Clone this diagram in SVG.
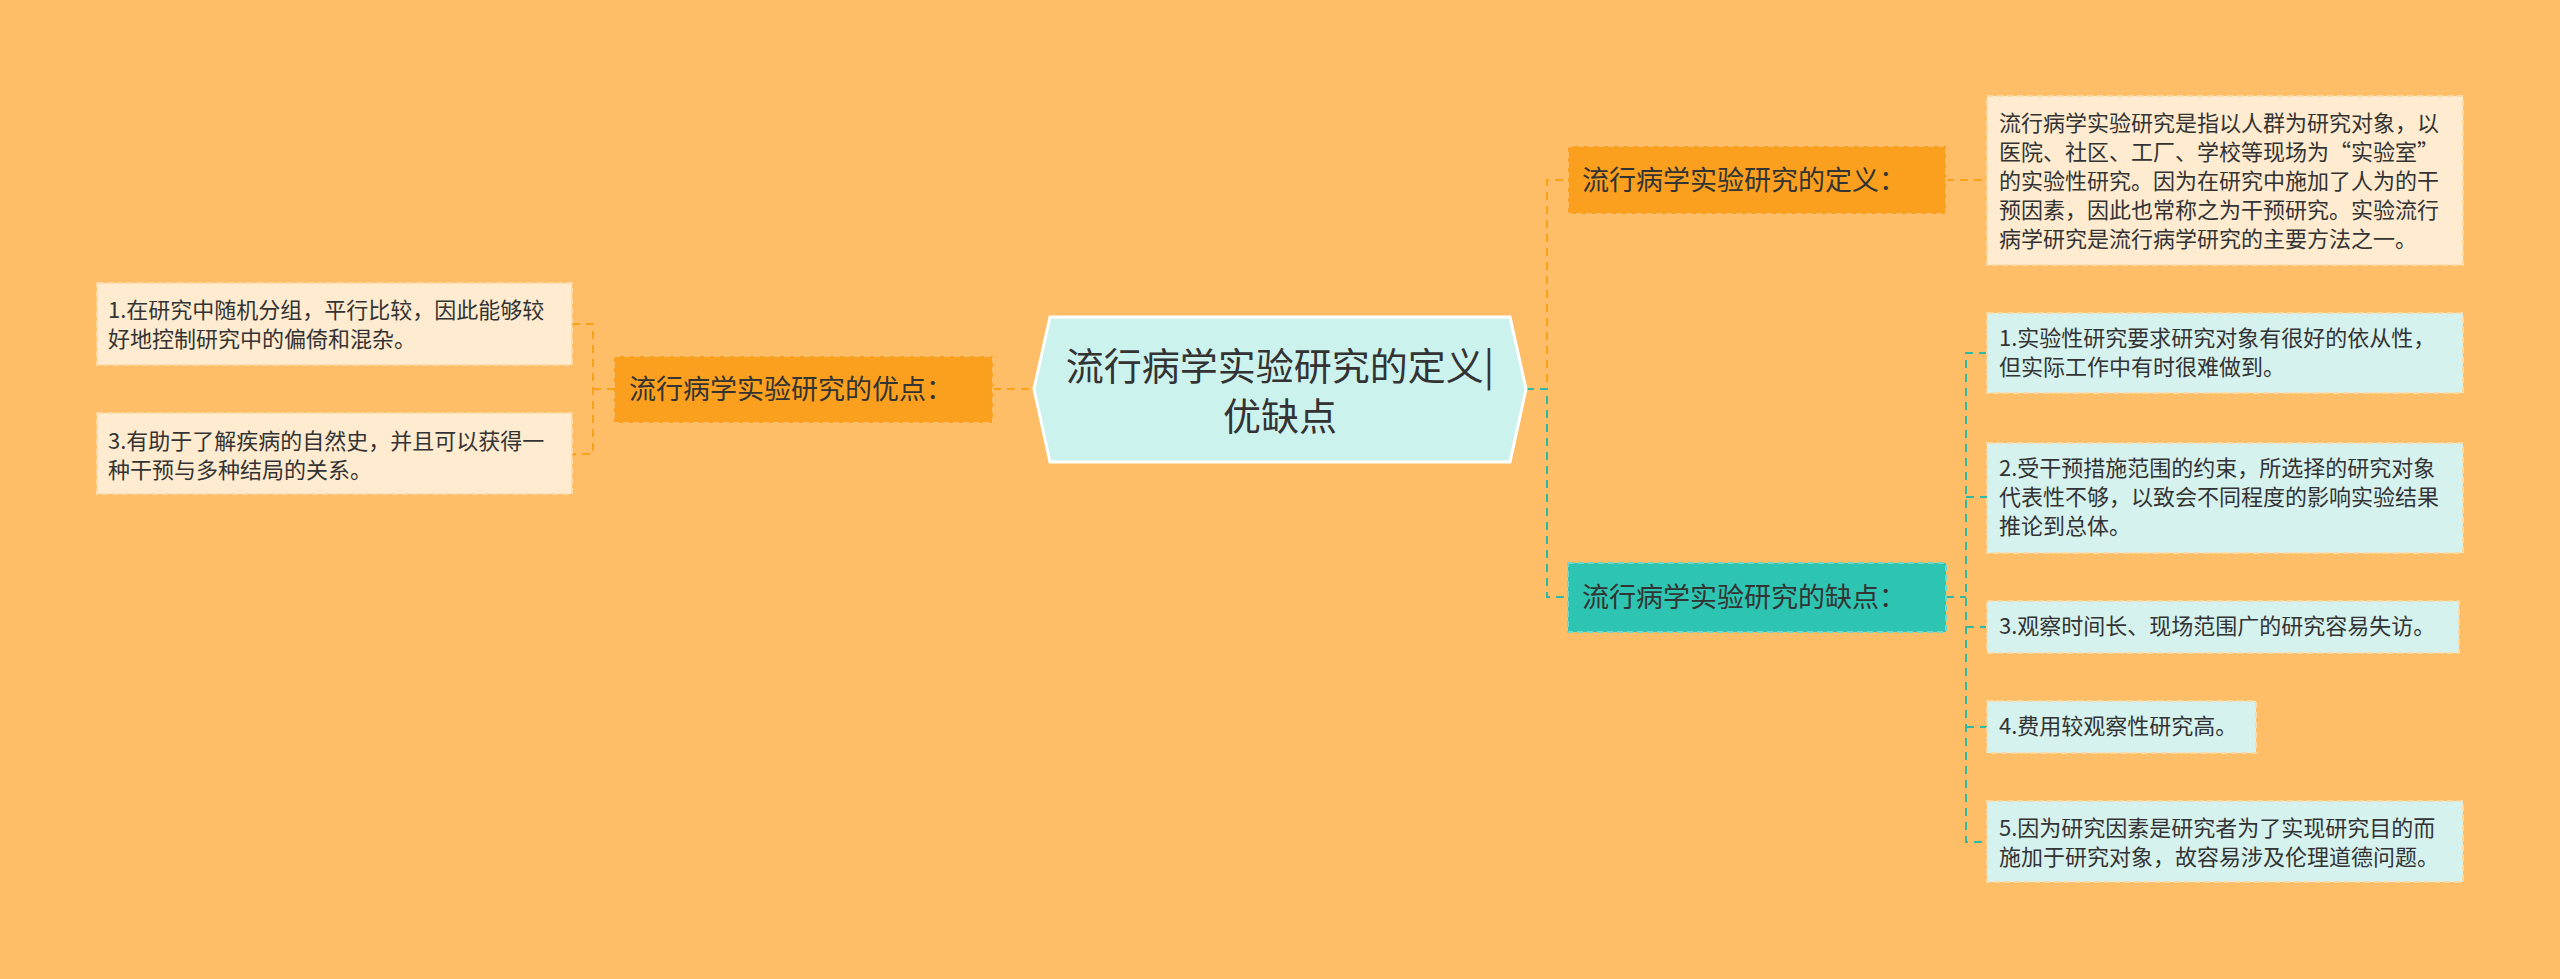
<svg xmlns="http://www.w3.org/2000/svg" width="2560" height="979" viewBox="0 0 2560 979">
<style>
text{font-family:"Noto Sans CJK SC","Noto Sans",sans-serif;fill:#333}
.leaf{font-size:22px}
.sub{font-size:27px}
.o{fill:#FBA01E;stroke:#FDBE67;stroke-width:2;stroke-dasharray:6 4}
.t{fill:#2EC4B2;stroke:#6DD8CC;stroke-width:2;stroke-dasharray:6 4}
.lo{fill:#FEEBD0;stroke:#FDD9A4;stroke-width:2;stroke-dasharray:6 4}
.lt{fill:#D6F2EF;stroke:#FDD9A4;stroke-width:2;stroke-dasharray:6 4}
.co{fill:none;stroke:#F9A11B;stroke-width:2;stroke-dasharray:8 6}
.ct{fill:none;stroke:#2EB8A6;stroke-width:2;stroke-dasharray:8 6}
</style>
<rect width="2560" height="979" fill="#FDBE67"/>
<g id="connectors">
<path class="co" d="M993 389H1033"/>
<path class="co" d="M572 324H593V454H572M593 389H614"/>
<path class="co" d="M1526 389H1547V180H1568M1946 180H1987"/>
<path class="ct" d="M1526 389H1547V597H1568M1946 597H1966M1987 353H1966V842H1987M1966 497H1987M1966 627H1987M1966 727H1987"/>
</g>
<g id="center">
<polygon points="1050,317 1510,317 1526,389 1510,462 1050,462 1034,389" fill="#CCF2EE" stroke="#fff" stroke-width="3"/>
<text x="1280" y="380" text-anchor="middle" font-size="38">流行病学实验研究的定义|</text>
<text x="1280" y="430" text-anchor="middle" font-size="38">优缺点</text>
</g>
<g id="pros">
<rect class="o" x="614" y="356" width="379" height="67"/>
<text class="sub" x="629" y="399">流行病学实验研究的优点：</text>
</g>
<g id="pro1">
<rect class="lo" x="97" y="283" width="475" height="82"/>
<text class="leaf" x="108" y="318">1.在研究中随机分组，平行比较，因此能够较</text>
<text class="leaf" x="108" y="347">好地控制研究中的偏倚和混杂。</text>
</g>
<g id="pro3">
<rect class="lo" x="97" y="413" width="475" height="81"/>
<text class="leaf" x="108" y="449">3.有助于了解疾病的自然史，并且可以获得一</text>
<text class="leaf" x="108" y="478">种干预与多种结局的关系。</text>
</g>
<g id="def">
<rect class="o" x="1568" y="146" width="378" height="68"/>
<text class="sub" x="1582" y="190">流行病学实验研究的定义：</text>
</g>
<g id="defleaf">
<rect class="lo" x="1987" y="96" width="476" height="169"/>
<text class="leaf" x="1999" y="131">流行病学实验研究是指以人群为研究对象，以</text>
<text class="leaf" x="1999" y="160">医院、社区、工厂、学校等现场为“实验室”</text>
<text class="leaf" x="1999" y="189">的实验性研究。因为在研究中施加了人为的干</text>
<text class="leaf" x="1999" y="218">预因素，因此也常称之为干预研究。实验流行</text>
<text class="leaf" x="1999" y="247">病学研究是流行病学研究的主要方法之一。</text>
</g>
<g id="cons">
<rect class="t" x="1568" y="563" width="378" height="69"/>
<text class="sub" x="1582" y="607">流行病学实验研究的缺点：</text>
</g>
<g id="con1">
<rect class="lt" x="1987" y="313" width="476" height="80"/>
<text class="leaf" x="1999" y="346">1.实验性研究要求研究对象有很好的依从性，</text>
<text class="leaf" x="1999" y="375">但实际工作中有时很难做到。</text>
</g>
<g id="con2">
<rect class="lt" x="1987" y="443" width="476" height="110"/>
<text class="leaf" x="1999" y="476">2.受干预措施范围的约束，所选择的研究对象</text>
<text class="leaf" x="1999" y="505">代表性不够，以致会不同程度的影响实验结果</text>
<text class="leaf" x="1999" y="534">推论到总体。</text>
</g>
<g id="con3">
<rect class="lt" x="1987" y="601" width="472" height="52"/>
<text class="leaf" x="1999" y="634">3.观察时间长、现场范围广的研究容易失访。</text>
</g>
<g id="con4">
<rect class="lt" x="1987" y="701" width="269" height="52"/>
<text class="leaf" x="1999" y="734">4.费用较观察性研究高。</text>
</g>
<g id="con5">
<rect class="lt" x="1987" y="801" width="476" height="81"/>
<text class="leaf" x="1999" y="836">5.因为研究因素是研究者为了实现研究目的而</text>
<text class="leaf" x="1999" y="865">施加于研究对象，故容易涉及伦理道德问题。</text>
</g>
</svg>
